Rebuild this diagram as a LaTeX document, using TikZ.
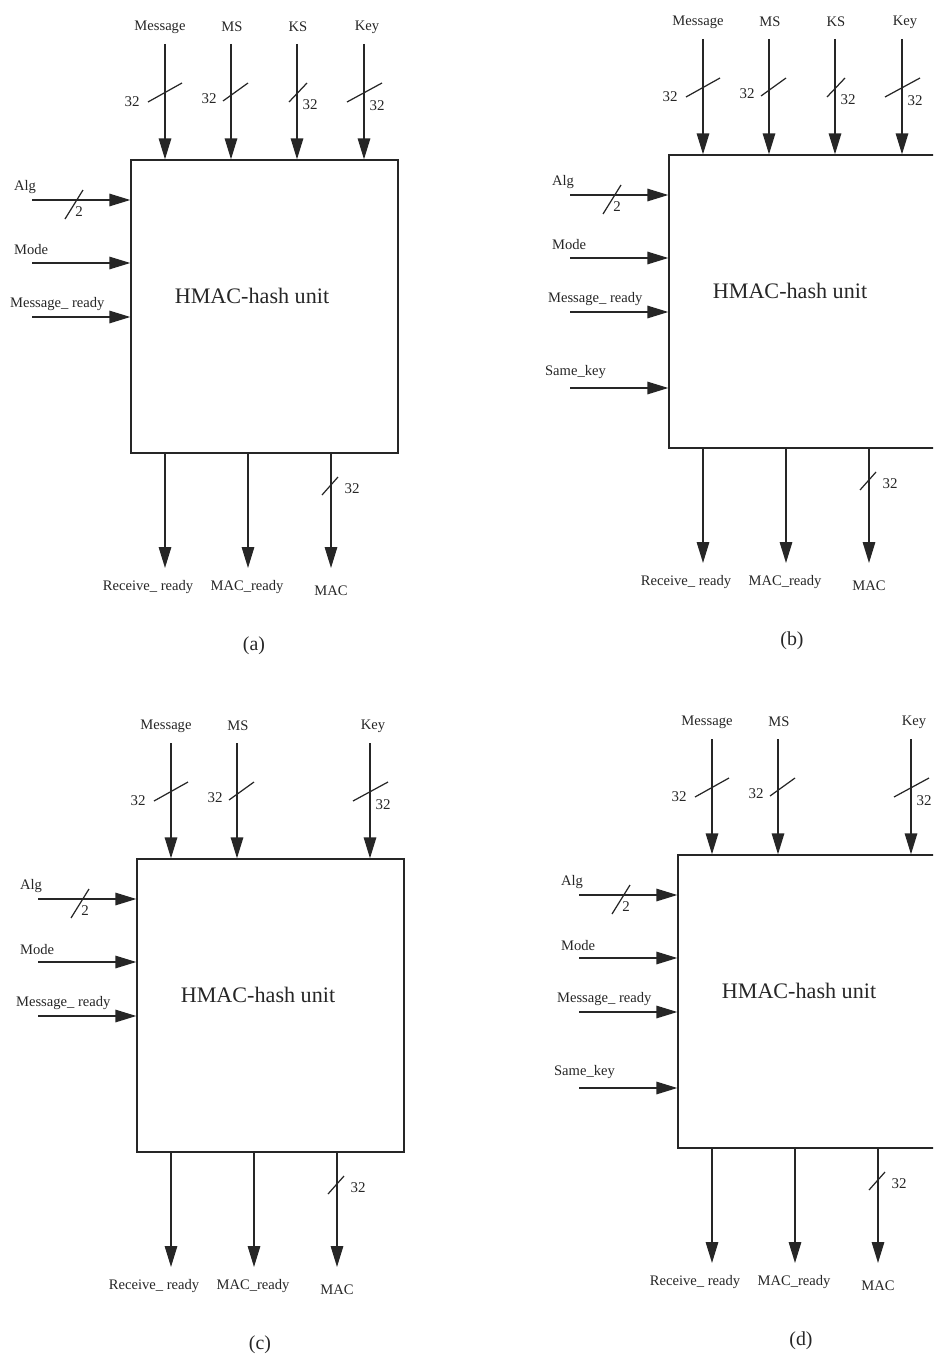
\documentclass[tikz,border=0pt]{standalone}
\usepackage{fontspec}
\setmainfont{Liberation Serif}
\usetikzlibrary{arrows.meta, positioning, calc}

\begin{document}
\begin{tikzpicture}[
    x=0.02cm, y=-0.02cm,
    unitbox/.style={
        rectangle,
        draw=black!85,
        line width=0.8pt,
        inner sep=0pt,
        minimum width=5.34cm,
        minimum height=5.86cm
    },
    lbl/.style={
        inner sep=1pt,
        text=black!85,
        font=\fontsize{8.3}{9}\selectfont
    },
    wlbl/.style={
        lbl,
        font=\fontsize{8.5}{9}\selectfont
    },
    unittitle/.style={
        text=black!85,
        font=\fontsize{12.6}{14}\selectfont
    },
    panelcap/.style={
        text=black!85,
        font=\fontsize{11.3}{13}\selectfont
    },
    sig/.style={
        -{Triangle[length=0.42cm, width=0.25cm]},
        line width=0.85pt,
        draw=black!85
    },
    bus/.style={
        line width=0.7pt,
        draw=black!85
    }
]

    \useasboundingbox (0,0) rectangle (933,1355);
    \clip (0,0) rectangle (933,1355);

    % --- FOUR PANELS: (a) and (c) without Same_key, (c) and (d) without KS ---
    \foreach \p/\dx/\dy/\ks/\sk in {a/0/0/1/0, b/538/-5/1/1, c/6/699/0/0, d/547/695/0/1} {
    \begin{scope}[shift={(\dx,\dy)}]

        % Unit block
        \node[unitbox] (box\p) at (264.5,306.5) {};
        \node[unittitle] (title\p) at (252,296) {HMAC-hash unit};

        % --- TOP INPUTS ---
        \coordinate (msgin\p) at (165,44);
        \node[lbl] (msg\p) at (160,27) {Message};
        \draw[sig] (msgin\p) -- (msgin\p |- box\p.north);
        \draw[bus] ([shift={(-17,58)}]msgin\p) -- ([shift={(17,39)}]msgin\p);
        \node[wlbl] (wmsg\p) at (132,102) {32};

        \coordinate (msin\p) at (231,44);
        \node[lbl] (ms\p) at (232,27) {MS};
        \draw[sig] (msin\p) -- (msin\p |- box\p.north);
        \draw[bus] ([shift={(-8,57)}]msin\p) -- ([shift={(17,39)}]msin\p);
        \node[wlbl] (wms\p) at (209,99) {32};

        \ifnum\ks=1
        \coordinate (ksin\p) at (297,44);
        \node[lbl] (ks\p) at (298,27) {KS};
        \draw[sig] (ksin\p) -- (ksin\p |- box\p.north);
        \draw[bus] ([shift={(-8,58)}]ksin\p) -- ([shift={(10,39)}]ksin\p);
        \node[wlbl] (wks\p) at (310,105) {32};
        \fi

        \coordinate (keyin\p) at (364,44);
        \node[lbl] (key\p) at (367,27) {Key};
        \draw[sig] (keyin\p) -- (keyin\p |- box\p.north);
        \draw[bus] ([shift={(-17,58)}]keyin\p) -- ([shift={(18,39)}]keyin\p);
        \node[wlbl] (wkey\p) at (377,106) {32};

        % --- LEFT INPUTS ---
        \coordinate (algin\p) at (32,200);
        \node[lbl, anchor=west] (alg\p) at (12,187) {Alg};
        \draw[sig] (algin\p) -- (algin\p -| box\p.west);
        \draw[bus] (65,219) -- (83,190);
        \node[wlbl] (walg\p) at (79,212) {2};

        \coordinate (modein\p) at (32,263);
        \node[lbl, anchor=west] (mode\p) at (12,250) {Mode};
        \draw[sig] (modein\p) -- (modein\p -| box\p.west);

        \coordinate (mrdyin\p) at (32,317);
        \node[lbl, anchor=west] (mrdy\p) at (8,304) {Message\_ ready};
        \draw[sig] (mrdyin\p) -- (mrdyin\p -| box\p.west);

        \ifnum\sk=1
        \coordinate (skeyin\p) at (32,393);
        \node[lbl, anchor=west] (skey\p) at (5,377) {Same\_key};
        \draw[sig] (skeyin\p) -- (skeyin\p -| box\p.west);
        \fi

        % --- BOTTOM OUTPUTS ---
        \coordinate (rrdyout\p) at (165,568);
        \draw[sig] (rrdyout\p |- box\p.south) -- (rrdyout\p);
        \node[lbl] (rrdy\p) at (148,587) {Receive\_ ready};

        \coordinate (mrdyout\p) at (248,568);
        \draw[sig] (mrdyout\p |- box\p.south) -- (mrdyout\p);
        \node[lbl] (macrdy\p) at (247,587) {MAC\_ready};

        \coordinate (macout\p) at (331,568);
        \draw[sig] (macout\p |- box\p.south) -- (macout\p);
        \draw[bus] (322,495) -- (338,477);
        \node[wlbl] (wmac\p) at (352,489) {32};
        \node[lbl] (mac\p) at (331,591) {MAC};

        % Panel caption
        \node[panelcap] (cap\p) at (254,646) {(\p)};

    \end{scope}
    }

\end{tikzpicture}
\end{document}
